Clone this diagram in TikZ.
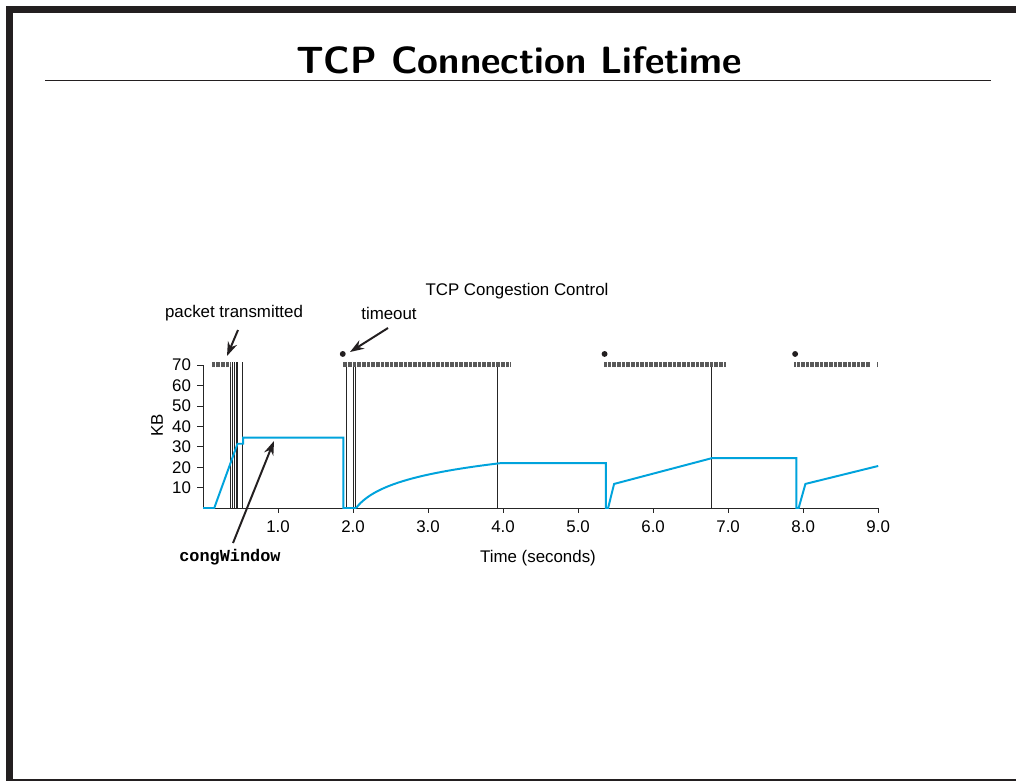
\documentclass[tikz,border=0pt]{standalone}
\usepackage{fontspec}
\setmainfont{Liberation Sans}
\newfontfamily\codefont{Liberation Mono}
\usetikzlibrary{arrows.meta}
\definecolor{cwnd}{HTML}{00A3DC}
\definecolor{framedark}{HTML}{231F20}
\tikzset{plottext/.style={font=\fontsize{12}{14}\selectfont,inner sep=1pt},cwndline/.style={draw=cwnd,line width=1.4pt,line join=miter},pktline/.style={draw=black!85,line width=0.5pt},hatch/.style={draw=black!65,line width=0.38pt},notearr/.style={-{Stealth[length=10pt,width=7pt]},line width=1.4pt,draw=framedark},axisline/.style={draw=black!85,line width=0.6pt}}
\begin{document}
\begin{tikzpicture}[x=0.025cm,y=-0.025cm]
\useasboundingbox (0,0) rectangle (1016,781);
\fill[framedark] (6,6) rectangle (1016,13);
\fill[framedark] (6,6) rectangle (13,781);
\fill[framedark] (6,778.5) rectangle (1016,781);
\node[font=\sffamily\bfseries\fontsize{27}{32}\selectfont,anchor=base,inner sep=0pt] (title) at (519,74) {TCP Connection Lifetime};
\draw[framedark,line width=1.4pt] (45,80.5) -- (991,80.5);
\node[plottext] (charttitle) at (517,291) {TCP Congestion Control};
\node[plottext] (pkt) at (234,313) {packet transmitted};
\node[plottext] (timeout) at (389,313) {timeout};
\node[plottext,font=\codefont\bfseries\fontsize{12}{14}\selectfont] (cwndlabel) at (230,557) {congWindow};
\node[plottext] (timelabel) at (538,558) {Time (seconds)};
\node[plottext,rotate=90] (kb) at (157,425) {KB};
\coordinate (pkttail) at (238,330);
\coordinate (pkttip) at (227,356);
\coordinate (totail) at (388,328);
\coordinate (totip) at (350,352);
\coordinate (cwtail) at (233,543);
\coordinate (cwtip) at (274,441);
\begin{scope}[shift={(203,508)},x=1.875cm,y=0.051cm]
\foreach \t in {0.366,0.387,0.413,0.44,0.46,0.53,1.916,2.004,2.036,3.927,6.78}
  \draw[pktline] (\t,0) -- (\t,71.6);
\foreach \t in {0.12,0.137,...,0.36} \draw[hatch] (\t,69) -- (\t,71.6);
\foreach \t in {1.863,1.88,...,4.1} \draw[hatch] (\t,69) -- (\t,71.6);
\foreach \t in {5.347,5.364,...,6.97} \draw[hatch] (\t,69) -- (\t,71.6);
\foreach \t in {7.884,7.901,...,8.893,8.983} \draw[hatch] (\t,69) -- (\t,71.6);
\foreach \t in {1.863,5.353,7.893} \fill[framedark] (\t,75.5) circle (2.1pt);
\draw[axisline] (0,70) -- (0,0) -- (9,0);
\foreach \y in {10,20,...,70}
  \draw[axisline] (0,\y) -- ++(-0.08,0) node[plottext,left=3pt] {\y};
\foreach \x in {1,...,9}
  \draw[axisline] (\x,0) -- ++(0,-2.5) node[plottext,below=4pt] {\x.0};
\draw[cwndline] (0,0) -- (0.15,0) -- (0.46,31.5) -- (0.535,31.5) -- (0.535,34.5) -- (1.87,34.5) -- (1.87,0) -- (2.04,0);
\draw[cwndline] plot[domain=2.04:3.97,samples=60] (\x,{9.3*ln(1+5*(\x-2.04))}) -- (5.37,22) -- (5.37,0) -- (5.4,0) -- (5.48,11.8) -- (6.79,24.5) -- (7.91,24.5) -- (7.91,0) -- (7.94,0) -- (8.03,11.8) -- (9,20.6);
\end{scope}
\draw[notearr] (pkttail) -- (pkttip);
\draw[notearr] (totail) -- (totip);
\draw[notearr] (cwtail) -- (cwtip);
\end{tikzpicture}
\end{document}
